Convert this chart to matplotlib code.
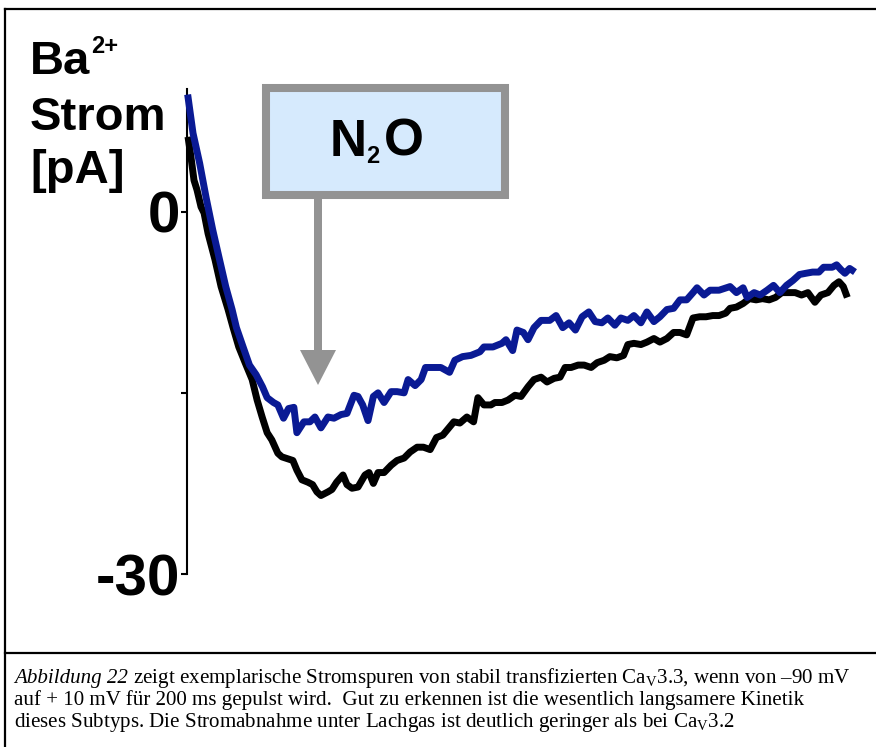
import matplotlib
matplotlib.use('Agg')
import matplotlib.pyplot as plt
from matplotlib.patches import Rectangle, Polygon
from matplotlib.lines import Line2D

plt.rcParams['mathtext.fontset'] = 'custom'
plt.rcParams['mathtext.rm'] = 'Liberation Serif'
plt.rcParams['mathtext.it'] = 'Liberation Serif:italic'
plt.rcParams['mathtext.bf'] = 'Liberation Sans:bold'

# ---- data (time in ms, current in pA) ----
t_blue = [0.2, 1.8, 3.8, 5.7, 7.7, 9.6, 11.6, 13.5, 14.8, 16.8, 18.7, 20.7, 22.6, 24.0, 25.9,
          27.2, 28.9, 30.4, 32.0, 32.9, 35.0, 36.8, 38.3, 40.1, 42.2, 44.0, 46.1, 47.9, 50.0,
          51.2, 52.6, 54.2, 55.8, 57.2, 59.0, 61.1, 62.9, 65.0, 66.2, 68.3, 70.1, 71.4, 73.4,
          76.0, 78.6, 80.2, 82.5, 85.0, 87.7, 88.9, 91.6, 94.3, 95.5, 97.5, 98.8, 100.7, 102.1,
          103.9, 106.0, 108.6, 110.5, 112.5, 114.4, 116.3, 118.3, 120.3, 122.2, 124.2, 126.0,
          128.1, 129.9, 132.0, 133.8, 135.9, 137.7, 139.8, 141.6, 143.7, 145.7, 147.6, 149.6,
          151.5, 152.7, 154.8, 156.6, 159.3, 162.6, 164.5, 166.5, 167.7, 169.8, 171.6, 173.7,
          175.6, 177.5, 179.5, 181.4, 183.4, 185.3, 187.3, 189.2, 190.6, 193.2, 194.5, 195.8,
          197.0, 198.4, 200.0]
i_blue = [9.7, 6.5, 4.0, 1.2, -1.5, -3.8, -6.2, -8.1, -9.6, -11.2, -12.7, -13.5, -14.5, -15.4, -15.8,
          -16.0, -17.1, -16.3, -16.2, -18.3, -17.4, -17.4, -17.0, -17.9, -17.0, -17.1, -16.8, -16.7, -15.2,
          -15.3, -16.0, -17.3, -15.3, -15.0, -15.8, -14.9, -14.9, -15.0, -13.9, -14.4, -13.9, -12.9, -12.9,
          -12.9, -13.3, -12.3, -12.0, -11.9, -11.6, -11.2, -11.2, -10.9, -10.6, -11.5, -9.8, -10.0, -10.6,
          -9.6, -9.0, -9.0, -8.6, -9.6, -9.2, -9.8, -8.7, -8.3, -9.1, -9.2, -8.8,
          -9.4, -8.8, -9.0, -8.6, -9.2, -8.3, -9.1, -8.7, -8.1, -8.0, -7.3, -7.3,
          -6.7, -6.3, -6.9, -6.5, -6.5, -6.2, -6.7, -6.3, -7.1, -6.7, -6.9, -6.5,
          -6.1, -6.7, -6.1, -5.7, -5.2, -5.1, -5.0, -5.0, -4.6, -4.6, -4.4, -4.8,
          -5.1, -4.7, -5.0]

t_black = [0.3, 1.2, 2.1, 3.0, 4.2, 5.1, 6.3, 8.4, 10.2, 12.3, 13.8, 15.5, 17.4, 19.5, 21.0,
           22.5, 24.0, 25.4, 27.2, 28.4, 31.7, 32.9, 34.4, 36.2, 37.6, 38.9, 40.1, 42.2, 43.4,
           44.8, 46.7, 47.9, 49.4, 51.2, 53.3, 54.5, 55.8, 57.2, 59.0, 61.1, 62.9, 65.0, 66.8,
           68.9, 70.8, 72.8, 74.7, 76.6, 77.8, 79.9, 81.7, 83.8, 85.8, 87.1, 88.9, 91.0, 92.2,
           94.3, 96.1, 98.2, 100.0, 102.1, 103.9, 106.0, 107.8, 109.9, 111.7, 113.2, 115.0,
           117.1, 118.9, 121.0, 122.8, 124.9, 126.6, 128.7, 130.7, 132.0, 133.8, 135.9, 137.7,
           139.8, 141.6, 143.7, 145.7, 147.6, 149.6, 151.5, 153.5, 155.4, 157.4, 159.3, 161.3,
           162.6, 164.5, 166.5, 168.4, 170.4, 172.3, 174.3, 176.2, 178.1, 180.2, 182.1, 184.0,
           185.9, 188.0, 189.8, 191.9, 193.7, 195.2, 196.5, 197.7]
i_black = [6.2, 4.5, 2.6, 1.8, 0.4, -0.1, -1.8, -4.0, -6.2, -8.1, -9.6, -11.2, -12.5, -13.9, -15.6,
           -17.0, -18.3, -18.9, -20.0, -20.3, -20.6, -21.4, -22.2, -22.4, -22.6, -23.2, -23.5, -23.2, -23.0,
           -22.4, -21.8, -22.6, -22.9, -22.8, -21.8, -21.6, -22.5, -21.6, -21.6, -21.0, -20.6, -20.4, -19.9,
           -19.5, -19.5, -19.7, -18.7, -18.5, -18.1, -17.4, -17.5, -17.0, -17.4, -15.4, -16.0, -16.0, -15.8,
           -15.8, -15.6, -15.2, -15.3, -14.5, -13.9, -13.7, -14.1, -13.8, -13.7, -12.9, -12.9,
           -12.7, -12.7, -12.9, -12.5, -12.3, -12.0, -12.1, -11.9, -11.0, -10.9, -11.0, -10.8,
           -10.5, -10.8, -10.5, -10.0, -10.0, -10.2, -8.8, -8.7, -8.7, -8.6, -8.6, -8.4,
           -8.0, -7.9, -7.6, -7.2, -7.3, -7.2, -7.3, -7.1, -6.7, -6.7, -6.7, -6.9,
           -6.7, -7.5, -6.9, -6.7, -6.1, -5.8, -6.2, -7.1]

y_ticks = [-30, -15, 0]
y_tick_labels = ['-30', '', '0']

caption_italic = "Abbildung 22"
caption_lines = [
    r" zeigt exemplarische Stromspuren von stabil transfizierten Ca$_\mathrm{V}$3.3, wenn von –90 mV",
    "auf + 10 mV für 200 ms gepulst wird.  Gut zu erkennen ist die wesentlich langsamere Kinetik",
    r"dieses Subtyps. Die Stromabnahme unter Lachgas ist deutlich geringer als bei Ca$_\mathrm{V}$3.2",
]

W, H = 876, 747
fig = plt.figure(figsize=(W / 100, H / 100), dpi=100)
fig.patch.set_facecolor('white')


def fx(x):
    return x / W


def fy(y):
    return 1 - y / H


SANS = 'Liberation Sans'
SERIF = 'Liberation Serif'
BLUE = '#0a1a94'
GRAY = '#939393'

ax = fig.add_axes([fx(187), fy(574), 673 / W, 485 / H])
ax.plot(t_black, i_black, color='black', lw=5.0, solid_joinstyle='round',
        solid_capstyle='butt', clip_on=False, zorder=3)
ax.plot(t_blue, i_blue, color=BLUE, lw=5.0, solid_joinstyle='round',
        solid_capstyle='butt', clip_on=False, zorder=4)
ax.set_xlim(0, 201.5)
ax.set_ylim(-30, 10.16)
for s in ['top', 'right', 'bottom']:
    ax.spines[s].set_visible(False)
ax.spines['left'].set_linewidth(1.5)
ax.set_xticks([])
ax.set_yticks(y_ticks)
ax.set_yticklabels(y_tick_labels, fontsize=42, fontweight='bold', family=SANS)
ax.tick_params(axis='y', direction='out', length=4.5, width=1.5, pad=0.5)
ax.patch.set_alpha(0)

# y label (three lines)
fig.text(fx(30), fy(74), 'Ba', fontsize=34, fontweight='bold', family=SANS, va='baseline', ha='left')
fig.text(fx(91), fy(53), '2+', fontsize=17, fontweight='bold', family=SANS, va='baseline', ha='left')
fig.text(fx(30), fy(130), 'Strom', fontsize=34, fontweight='bold', family=SANS, va='baseline', ha='left')
fig.text(fx(30), fy(183), '[pA]', fontsize=34, fontweight='bold', family=SANS, va='baseline', ha='left')

# N2O box
box = Rectangle((fx(266), fy(195)), (505 - 266) / W, (195 - 88) / H, transform=fig.transFigure,
                facecolor='#d6eafd', edgecolor=GRAY, linewidth=5.8, zorder=5)
fig.add_artist(box)
fig.text(fx(330), fy(156), 'N', fontsize=37, fontweight='bold', family=SANS, va='baseline', ha='left', zorder=6)
fig.text(fx(366), fy(163), '2', fontsize=17, fontweight='bold', family=SANS, va='baseline', ha='left', zorder=6)
fig.text(fx(384), fy(156), 'O', fontsize=37, fontweight='bold', family=SANS, va='baseline', ha='left', zorder=6)

# arrow
shaft = Rectangle((fx(314), fy(352)), 8 / W, (352 - 199) / H, transform=fig.transFigure,
                  facecolor=GRAY, edgecolor='none', zorder=5)
fig.add_artist(shaft)
head = Polygon([(fx(300), fy(350)), (fx(336), fy(350)), (fx(318), fy(385))],
               closed=True, transform=fig.transFigure, facecolor=GRAY, edgecolor='none', zorder=5)
fig.add_artist(head)

# frame lines
for (x0, y0, x1, y1) in [(4.5, 8.5, 880, 8.5), (4.5, 8.5, 4.5, 750), (4.5, 653, 880, 653)]:
    fig.add_artist(Line2D([fx(x0), fx(x1)], [fy(y0), fy(y1)], transform=fig.transFigure,
                          color='black', lw=1.6, solid_capstyle='projecting'))

# caption
CAP_FS = 15.1
renderer = fig.canvas.get_renderer()
t_it = fig.text(fx(14), fy(683), caption_italic, fontsize=CAP_FS, family=SERIF, style='italic',
                va='baseline', ha='left')
w_it = t_it.get_window_extent(renderer).width
for k, line in enumerate(caption_lines):
    x0 = 14 + (w_it if k == 0 else 0)
    fig.text(fx(x0), fy(683 + 22 * k), line, fontsize=CAP_FS, family=SERIF, va='baseline', ha='left')

fig.savefig('out.png', dpi=100)
